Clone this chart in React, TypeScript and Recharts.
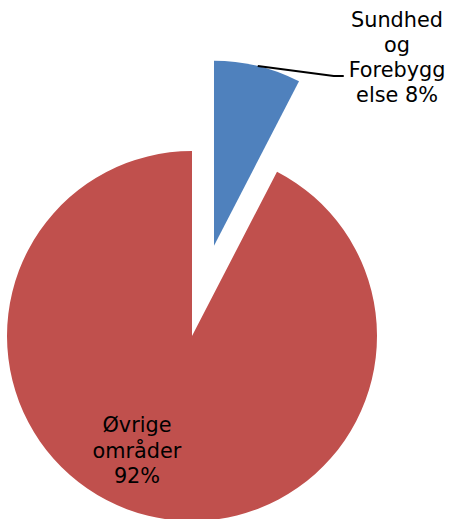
import { PieChart, Pie, Cell } from 'recharts'

const categories = ['Sundhed og Forebyggelse', 'Øvrige områder']
const values = [7.6, 92.4]
const colors = ['#4F81BD', '#C0504D']
const labelLines = [
  ['Sundhed', 'og', 'Forebygg', 'else 8%'],
  ['Øvrige', 'områder', '92%'],
]

const data = categories.map((name, i) => ({ name, value: values[i] }))

const W = 450
const H = 519
const CX = 192
const CY = 336
const R = 185
const EXPLODE = 93
const RAD = Math.PI / 180

const total = values.reduce((a, b) => a + b, 0)
const blueMid = 90 - (360 * values[0]) / total / 2
const bx = CX + EXPLODE * Math.cos(blueMid * RAD)
const by = CY - EXPLODE * Math.sin(blueMid * RAD)

const font = { fontFamily: 'DejaVu Sans', fontSize: 20.8, fill: '#000' }

function blueLabel(p: any) {
  if (p.index !== 0) return null
  const sx = p.cx + p.outerRadius * Math.cos(p.midAngle * RAD)
  const sy = p.cy - p.outerRadius * Math.sin(p.midAngle * RAD)
  return (
    <g>
      <polyline points={`${sx},${sy} ${sx + 76},${sy + 10} ${sx + 86},${sy + 10}`} fill="none" stroke="#000" strokeWidth={2} />
      {labelLines[0].map((t, i) => (
        <text key={i} x={397} y={27 + i * 25} textAnchor="middle" {...font}>{t}</text>
      ))}
    </g>
  )
}

function redLabel(p: any) {
  if (p.index !== 1) return null
  return (
    <g>
      {labelLines[1].map((t, i) => (
        <text key={i} x={137} y={432 + i * 25.5} textAnchor="middle" {...font}>{t}</text>
      ))}
    </g>
  )
}

export default function App() {
  return (
    <div style={{ position: 'absolute', left: 0, top: 0, width: W, height: H, background: '#fff' }}>
      <PieChart width={W} height={H} margin={{ top: 0, right: 0, bottom: 0, left: 0 }}>
        <Pie data={data} dataKey="value" cx={CX} cy={CY} outerRadius={R} startAngle={90} endAngle={-270}
          stroke="none" label={redLabel} labelLine={false} isAnimationActive={false}>
          {data.map((d, i) => <Cell key={d.name} fill={i === 1 ? colors[1] : 'transparent'} />)}
        </Pie>
        <Pie data={data} dataKey="value" cx={bx} cy={by} outerRadius={R} startAngle={90} endAngle={-270}
          stroke="none" label={blueLabel} labelLine={false} isAnimationActive={false}>
          {data.map((d, i) => <Cell key={d.name} fill={i === 0 ? colors[0] : 'transparent'} />)}
        </Pie>
      </PieChart>
    </div>
  )
}
